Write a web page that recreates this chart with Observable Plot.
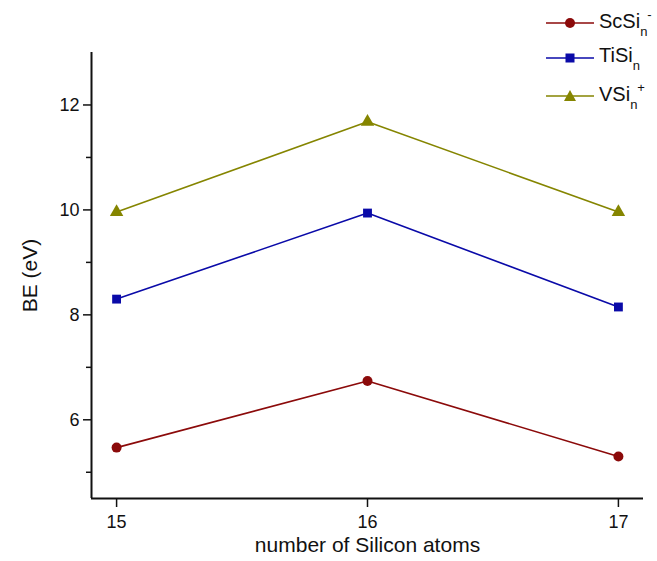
<!DOCTYPE html>
<html><head><meta charset="utf-8">
<script src="https://cdn.jsdelivr.net/npm/d3@7"></script>
<script src="https://cdn.jsdelivr.net/npm/@observablehq/plot@0.6"></script>
<style>
body{margin:0;background:#fff;font-family:"Liberation Sans",Arial,sans-serif;}
#wrap{position:relative;width:657px;height:561px;overflow:hidden;}
#legend{position:absolute;left:544px;top:0;font-size:20px;color:#111;white-space:nowrap;}
.row{position:absolute;left:0;display:flex;align-items:center;height:30px;}
.row svg{margin-right:3px;}
.lab{color:#111;}
.lab sub{font-size:13px;vertical-align:-8px;color:#111;}
.lab sup{font-size:13px;vertical-align:9px;color:#111;}
</style></head>
<body><div id="wrap"><div id="legend"></div></div>
<script>
const atoms = [15, 16, 17];
const scSi = [5.47, 6.74, 5.30];
const tiSi = [8.30, 9.94, 8.15];
const vSi = [9.96, 11.68, 9.96];
const seriesNames = ["ScSi", "TiSi", "VSi"];
const charges = ["-", "", "+"];
const colors = ["#8b0a0a", "#0a0aa8", "#858500"];
const symbols = ["circle", "square", "triangle"];
const majorTicks = [6, 8, 10, 12];
const minorTicks = [5, 7, 9, 11];
const xDomain = [14.9, 17.1];
const yDomain = [4.5, 13];

const allVals = [scSi, tiSi, vSi];
const data = [];
allVals.forEach((vals, s) => atoms.forEach((a, i) => data.push({n: a, be: vals[i], s: seriesNames[s]})));

const font = '"Liberation Sans", Arial, sans-serif';
const chart = Plot.plot({
  width: 657, height: 561,
  marginLeft: 91, marginRight: 14, marginTop: 52, marginBottom: 63,
  style: {fontFamily: font, fontSize: "18px", color: "#111", background: "white"},
  x: {domain: xDomain},
  y: {domain: yDomain},
  color: {domain: seriesNames, range: colors},
  symbol: {domain: seriesNames, range: symbols},
  marks: [
    Plot.ruleX([xDomain[0]], {stroke: "#111", strokeWidth: 2}),
    Plot.ruleY([yDomain[0]], {stroke: "#111", strokeWidth: 2}),
    Plot.axisY({ticks: majorTicks, tickSize: 8, tickPadding: 4, strokeWidth: 1.5, label: null, fontSize: 18}),
    Plot.axisY({ticks: minorTicks, tickSize: 5, text: null, strokeWidth: 1.5, label: null}),
    Plot.axisX({ticks: atoms, tickSize: 9, tickPadding: 8, strokeWidth: 1.5, tickFormat: d => String(d), label: null, fontSize: 18}),
    Plot.text(["BE (eV)"], {frameAnchor: "left", textAnchor: "middle", dx: -61, rotate: -90, fontSize: 21, fill: "#111"}),
    Plot.text(["number of Silicon atoms"], {frameAnchor: "bottom", textAnchor: "middle", dy: 53, fontSize: 21, fill: "#111"}),
    Plot.line(data, {x: "n", y: "be", z: "s", stroke: "s", strokeWidth: 1.6}),
    Plot.dot(data, {x: "n", y: "be", fill: "s", symbol: "s", r: 5, stroke: "none"})
  ]
});
document.getElementById("wrap").prepend(chart);

const leg = document.getElementById("legend");
const rowCenters = [23, 58, 96];
const sym = {
  circle: c => `<circle cx="26" cy="10" r="5" fill="${c}"/>`,
  square: c => `<rect x="21.5" y="5.5" width="9" height="9" fill="${c}"/>`,
  triangle: c => `<polygon points="26,4 32,15 20,15" fill="${c}"/>`
};
seriesNames.forEach((name, i) => {
  const row = document.createElement("div");
  row.className = "row";
  row.style.top = (rowCenters[i] - 15) + "px";
  row.innerHTML = `<svg width="52" height="20"><line x1="2" x2="50" y1="10" y2="10" stroke="${colors[i]}" stroke-width="1.6"/>${sym[symbols[i]](colors[i])}</svg>` +
    `<span class="lab">${name}<sub>n</sub>${charges[i] ? `<sup>${charges[i]}</sup>` : ""}</span>`;
  leg.appendChild(row);
});
</script></body></html>
